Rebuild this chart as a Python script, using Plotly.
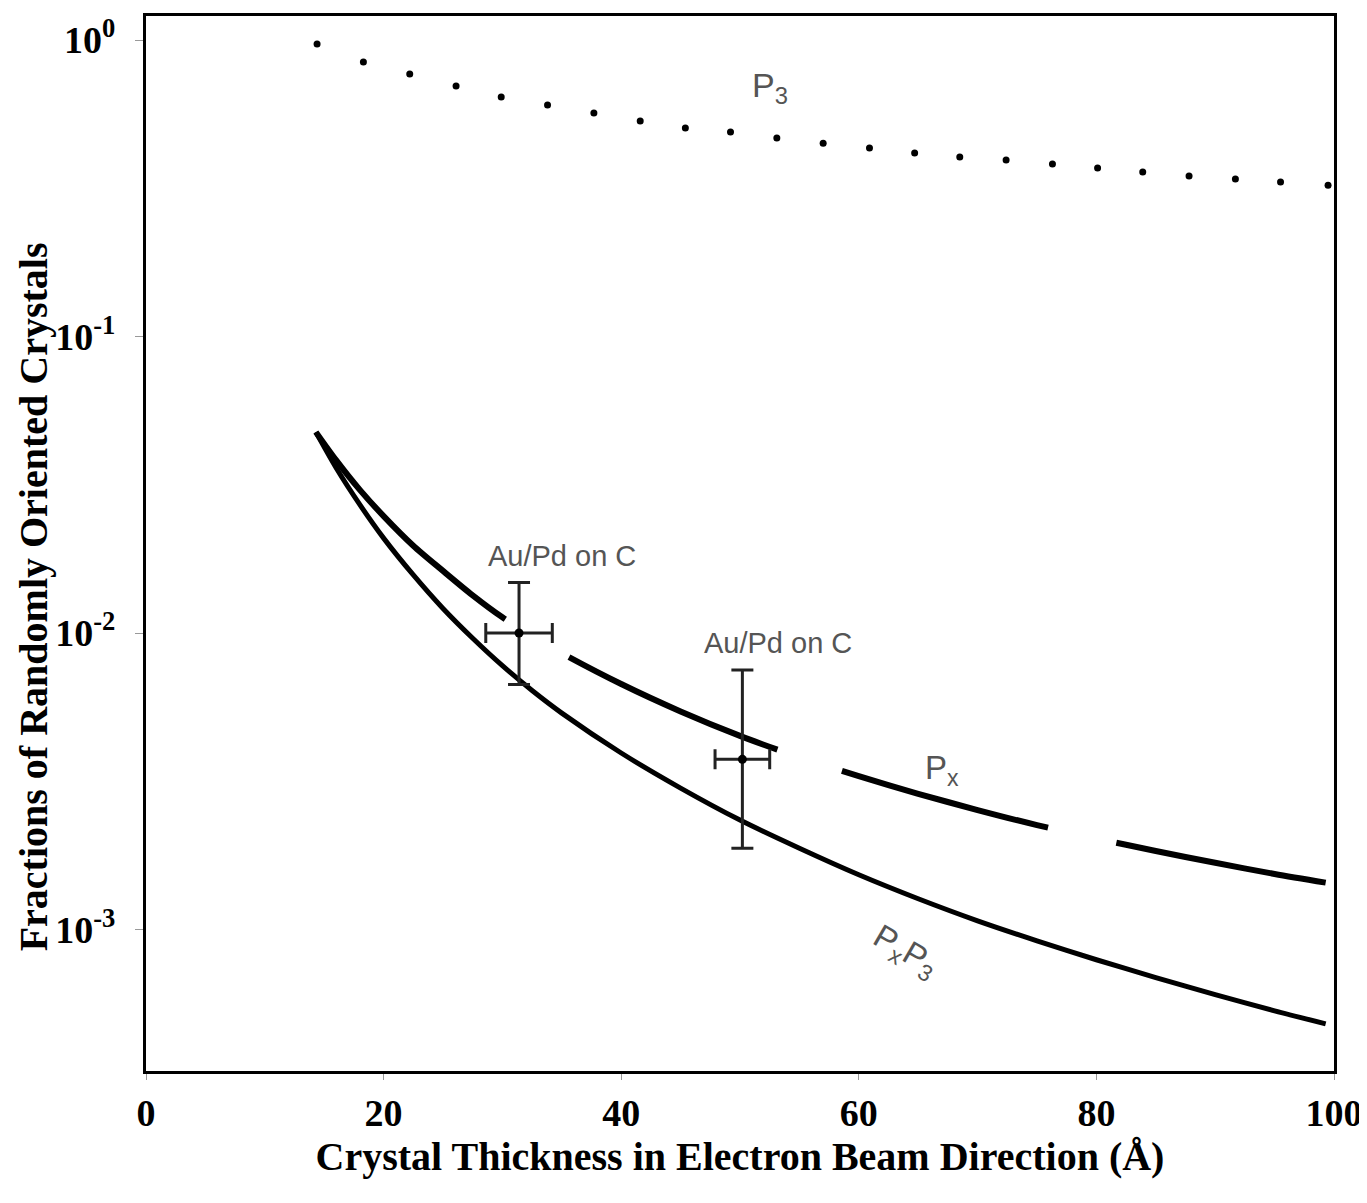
import math
import plotly.graph_objects as go

# ---- data ----
thickness = [14.3, 16, 18, 20, 22.5, 25, 27.5, 30, 32.5, 35, 40, 45, 50, 55, 60, 65,
             70, 75, 80, 85, 90, 95, 99.3]
px_p3 = [0.0476, 0.0361, 0.0271, 0.0209, 0.0157, 0.0121, 0.0096, 0.00776, 0.00640, 0.00537,
         0.00394, 0.00300, 0.00234, 0.00188, 0.00153, 0.00127, 0.00107, 0.000916,
         0.000791, 0.000689, 0.000603, 0.000532, 0.000481]
px = [0.0476, 0.0383, 0.0304, 0.0248, 0.0197, 0.0162, 0.0134, 0.0113, 0.0098, 0.00855,
      0.00673, 0.00544, 0.00450, 0.00381, 0.00329, 0.00287, 0.00253, 0.00225,
      0.00203, 0.00184, 0.00168, 0.00154, 0.00144]

p3_x = [14.4, 18.3, 22.2, 26.1, 29.9, 33.8, 37.7, 41.6, 45.4, 49.2, 53.1, 57.0,
        60.9, 64.7, 68.5, 72.4, 76.3, 80.1, 83.9, 87.8, 91.7, 95.5, 99.5]
p3 = [0.969, 0.843, 0.768, 0.700, 0.642, 0.604, 0.567, 0.533, 0.505, 0.490, 0.467, 0.449,
      0.432, 0.416, 0.403, 0.394, 0.382, 0.370, 0.359, 0.348, 0.340, 0.332, 0.324]

meas_x = [31.4, 50.2]
meas_y = [0.0100, 0.00375]
meas_x_err = [2.8, 2.3]
meas_y_plus = [0.0048, 0.00375]
meas_y_minus = [0.0033, 0.00187]

y_tickvals = [1, 0.1, 0.01, 0.001]
y_ticktext = ["10<sup>0</sup>", "10<sup>-1</sup>", "10<sup>-2</sup>", "10<sup>-3</sup>"]
x_tickvals = [0, 20, 40, 60, 80, 100]

fig = go.Figure()

fig.add_trace(go.Scatter(x=thickness, y=px_p3, mode="lines",
                         line=dict(color="black", width=5, shape="spline", smoothing=0.8),
                         showlegend=False, hoverinfo="skip"))
fig.add_trace(go.Scatter(x=thickness, y=px, mode="lines",
                         line=dict(color="black", width=6, shape="spline", smoothing=0.8,
                                   dash="268px,74px,228px,68px,214px,70px,240px,60px"),
                         showlegend=False, hoverinfo="skip"))
fig.add_trace(go.Scatter(x=p3_x, y=p3, mode="markers", marker=dict(color="black", size=7),
                         showlegend=False, hoverinfo="skip"))
fig.add_trace(go.Scatter(
    x=meas_x, y=meas_y, mode="markers", marker=dict(color="black", size=9),
    error_x=dict(type="data", array=meas_x_err, color="#222", thickness=3, width=10),
    error_y=dict(type="data", symmetric=False, array=meas_y_plus, arrayminus=meas_y_minus,
                 color="#222", thickness=3, width=11),
    showlegend=False, hoverinfo="skip"))

tick_font = dict(family="Liberation Serif", size=38, color="black", weight="bold")
title_font = dict(family="Liberation Serif", size=40, color="black", weight="bold")
label_color = "#555555"

annots = [
    (52.5, 0.689, "P<sub>3</sub>", 34, 0),
    (35.0, 0.0182, "Au/Pd on C", 29, 0),
    (53.2, 0.00925, "Au/Pd on C", 29, 0),
    (67.0, 0.00345, "P<sub>x</sub>", 33, 0),
    (63.9, 0.00084, "P<sub>x</sub>P<sub>3</sub>", 33, 30),
]
for ax_, ay_, txt, fs, ang in annots:
    fig.add_annotation(xref="x", yref="y", x=ax_, y=math.log10(ay_), text=txt,
                       showarrow=False, textangle=ang,
                       font=dict(family="Liberation Sans", size=fs, color=label_color))

# y-axis title (sits lower than the axis centre in the reference)
fig.add_annotation(xref="paper", yref="paper", x=-0.0951, y=0.449,
                   text="Fractions of Randomly Oriented Crystals", textangle=-90,
                   showarrow=False, font=title_font, xanchor="center", yanchor="middle")

fig.update_layout(
    width=1359, height=1187,
    margin=dict(l=138, r=33, t=8, b=124),
    paper_bgcolor="white", plot_bgcolor="white",
    xaxis=dict(range=[0, 100], tickvals=x_tickvals, showgrid=False, zeroline=False,
               showline=True, linecolor="black", linewidth=3, mirror=True,
               ticks="outside", ticklen=6, tickcolor="#999", tickwidth=1,
               tickfont=tick_font, ticklabelstandoff=0, automargin=False,
               title=dict(text="Crystal Thickness in Electron Beam Direction (Å)", font=title_font, standoff=10)),
    yaxis=dict(type="log", range=[-3.477, 0.081], tickvals=y_tickvals, ticktext=y_ticktext,
               showgrid=False, zeroline=False,
               showline=True, linecolor="black", linewidth=3, mirror=True,
               ticks="outside", ticklen=8, tickcolor="#999", tickwidth=1,
               tickfont=tick_font, ticklabelstandoff=12, automargin=False),
)

fig.write_html("out.html")
